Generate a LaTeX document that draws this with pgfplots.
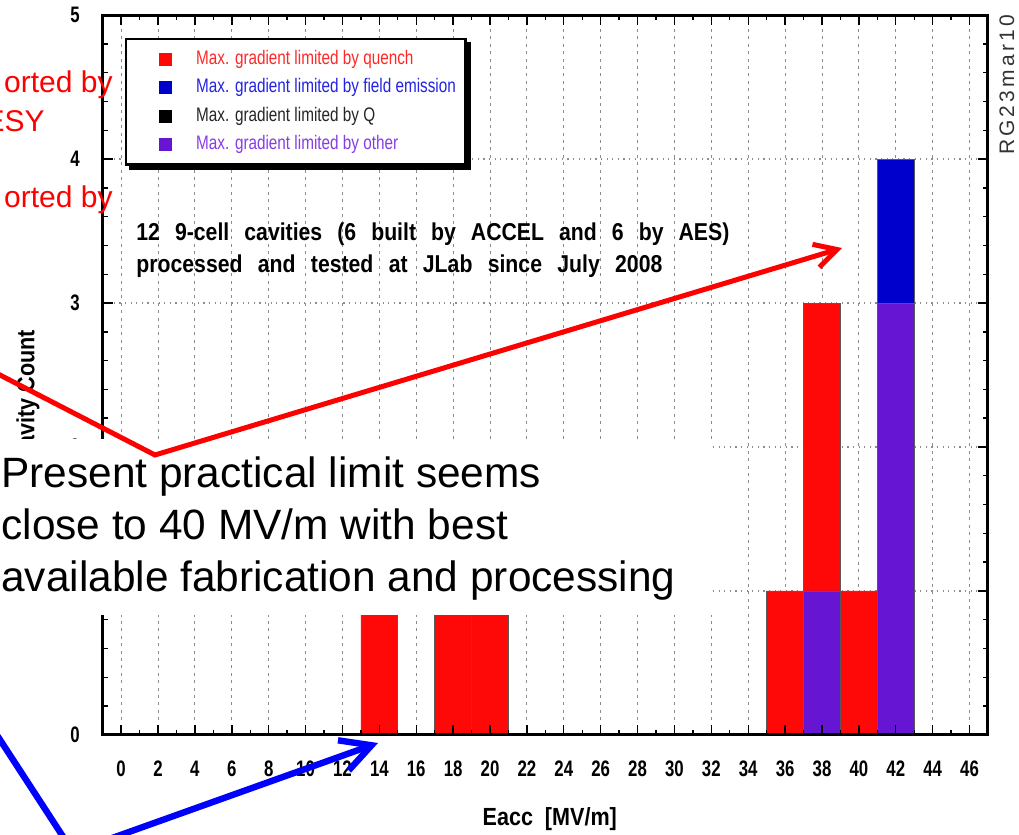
\documentclass[border=0pt]{standalone}
\usepackage{fontspec}
\setmainfont{Liberation Sans}
\newfontfamily\condbf[FakeStretch=0.75]{Liberation Sans}
\newfontfamily\annbf[FakeStretch=0.87]{Liberation Sans}
\newfontfamily\condrg[FakeStretch=0.78]{Liberation Sans}
\newfontfamily\spaced[LetterSpace=15]{Liberation Sans}
\usepackage{pgfplots}
\pgfplotsset{compat=1.18}
\usetikzlibrary{arrows.meta}

\definecolor{qred}{RGB}{255,8,8}
\definecolor{feblue}{RGB}{0,0,205}
\definecolor{othpurple}{RGB}{102,22,210}
\definecolor{qredtxt}{RGB}{255,40,40}
\definecolor{febluetxt}{RGB}{35,35,225}
\definecolor{othtxt}{RGB}{135,60,230}
\definecolor{gridgray}{RGB}{140,140,140}

\pgfplotsset{
  chartframe/.style={
    at={(51.35pt,50pt)}, anchor=south west, scale only axis,
    width=442.65pt, height=360pt,
    xmin=-1, xmax=47, ymin=0, ymax=5,
    xtick={0,2,...,46}, ytick={0,1,...,5},
  },
  barstyle/.style={draw=black!65, line width=0.4pt},
}

\begin{document}
\begin{tikzpicture}
\path[use as bounding box] (0,0) rectangle (509.5pt,417.5pt);

% grid and histogram bars (stacked: other, quench, field emission)
\begin{axis}[chartframe,
  axis line style={draw=none},
  major tick length=0pt, minor tick length=0pt,
  xticklabels={}, yticklabels={},
  xmajorgrids, ymajorgrids,
  x grid style={gridgray, line width=0.5pt, dash pattern=on 1.5pt off 2.2pt},
  y grid style={gridgray, line width=0.6pt, dash pattern=on 0.6pt off 2.2pt},
  ybar stacked, bar width=2,
  ]
\addplot[barstyle, fill=othpurple] coordinates {(14,0) (18,0) (20,0) (36,0) (38,1) (40,0) (42,3)};
\addplot[barstyle, fill=qred] coordinates {(14,1) (18,1) (20,1) (36,1) (38,2) (40,1) (42,0)};
\addplot[barstyle, fill=feblue] coordinates {(14,0) (18,0) (20,0) (36,0) (38,0) (40,0) (42,1)};
\end{axis}

% frame, ticks, labels and legend on top of the bars
\begin{axis}[chartframe,
  axis line style={line width=1.5pt},
  tick style={black, line width=0.7pt},
  major tick length=5pt, minor tick length=2.5pt,
  minor x tick num=1, minor y tick num=4,
  /pgf/number format/assume math mode=true,
  tick label style={font=\condbf\bfseries\fontsize{11.2}{13}\selectfont},
  xticklabel style={yshift=-9.5pt},
  yticklabel style={xshift=-8pt},
  xlabel={Eacc\ \ [MV/m]},
  xlabel style={font=\annbf\bfseries\fontsize{12.4}{15}\selectfont, at={(rel axis cs:0.505,-0.126)}, anchor=base},
  ylabel={Cavity Count},
  ylabel style={font=\annbf\bfseries\fontsize{12.4}{15}\selectfont, at={(rel axis cs:-0.0844,0.47)}, anchor=center},
  legend image code/.code={\path (-15pt,0pt); \fill[#1] (0pt,-3.25pt) rectangle (6.5pt,3.25pt);},
  legend style={name=leg, at={(0.0252,0.968)}, anchor=north west, draw=black, line width=1.2pt,
    fill=white, inner xsep=1.5pt, inner ysep=3.4pt, row sep=1pt, column sep=8.7pt,
    font=\condrg\fontsize{9.8}{11}\selectfont, cells={anchor=west},
    nodes={inner xsep=3.3pt, inner ysep=2pt, text height=7.1pt, text depth=2.1pt}},
  ]
\addlegendimage{fill=qred, draw=none}
\addlegendentry{\textcolor{qredtxt}{Max. gradient limited by quench}}
\addlegendimage{fill=feblue, draw=none}
\addlegendentry{\textcolor{febluetxt}{Max. gradient limited by field emission}}
\addlegendimage{fill=black, draw=none}
\addlegendentry{\textcolor{black!85}{Max. gradient limited by Q}}
\addlegendimage{fill=othpurple, draw=none}
\addlegendentry{\textcolor{othtxt}{Max. gradient limited by other}}
\end{axis}

% solid shadow below and right of the legend box
\fill[black] ([xshift=2pt,yshift=-2.2pt]leg.south west) rectangle ([xshift=2.2pt]leg.south east);
\fill[black] ([yshift=-2pt]leg.north east) rectangle ([xshift=2.2pt,yshift=-2.2pt]leg.south east);

% description of the sample
\node[anchor=base west, inner sep=0, font=\annbf\bfseries\fontsize{12.2}{15}\selectfont]
  at (68pt,297pt) {\makebox[296.5pt][s]{12 9-cell cavities (6 built by ACCEL and 6 by AES)}};
\node[anchor=base west, inner sep=0, font=\annbf\bfseries\fontsize{12.2}{15}\selectfont]
  at (68pt,281pt) {\makebox[263pt][s]{processed and tested at JLab since July 2008}};

% side notes in red
\node[anchor=base east, inner sep=0, text=red, font=\fontsize{15}{18}\selectfont] at (56.5pt,371pt) {orted by};
\node[anchor=base east, inner sep=0, text=red, font=\fontsize{15}{18}\selectfont] at (22.5pt,351.5pt) {ESY};
\node[anchor=base east, inner sep=0, text=red, font=\fontsize{15}{18}\selectfont] at (56.5pt,313.5pt) {orted by};

% date stamp
\node[rotate=90, inner sep=0, text=black!80, font=\spaced\fontsize{10.5}{12}\selectfont] at (503.5pt,375pt) {RG23mar10};

% conclusion box
\fill[white] (-2pt,110pt) rectangle (356.5pt,198pt);
\node[anchor=base west, inner sep=0, font=\fontsize{21.2}{26}\selectfont] at (0.5pt,173.5pt) {Present practical limit seems};
\node[anchor=base west, inner sep=0, font=\fontsize{21.2}{26}\selectfont] at (0.5pt,147.5pt) {close to 40 MV/m with best};
\node[anchor=base west, inner sep=0, font=\fontsize{21.2}{26}\selectfont] at (0.5pt,121.5pt) {available fabrication and processing};

% pointers
\draw[red, line width=2.5pt, -{Straight Barb[length=11pt,width=12pt]}]
  (-10pt,235.15pt) -- (77.5pt,190pt) -- (421pt,293.5pt);
\draw[blue, line width=3.2pt, -{Straight Barb[length=15pt,width=16pt]}]
  (-10pt,63pt) -- (36.5pt,-8.5pt) -- (189pt,46pt);
\end{tikzpicture}
\end{document}
